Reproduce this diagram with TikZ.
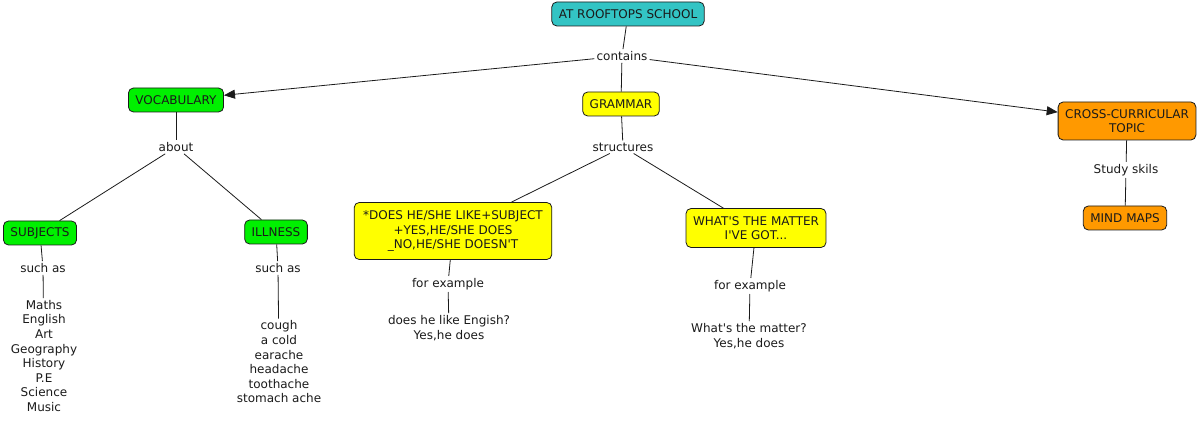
\documentclass[tikz,border=0pt]{standalone}
\usepackage{fontspec}
\usepackage{xcolor}
\usepackage{tikz}
\usetikzlibrary{arrows.meta}
\setmainfont{DejaVu Sans}
\definecolor{teal1}{HTML}{33C4C4}
\definecolor{green1}{HTML}{00F000}
\definecolor{yellow1}{HTML}{FFFF00}
\definecolor{orange1}{HTML}{FF9900}
\definecolor{ink}{HTML}{1A1A1A}

\begin{document}
\begin{tikzpicture}[
			x=1pt, y=-1pt,
			% Define the styles for the concepts and the linking phrases
			every node/.style={font=\fontsize{12}{14.6}\selectfont, text=ink, align=center},
			concept/.style={rectangle, rounded corners=5pt, draw=ink, line width=0.8pt, inner xsep=7pt, inner ysep=4pt, minimum height=24pt},
			link/.style={inner sep=2pt},
			conn/.style={line width=0.8pt, draw=ink},
			arr/.style={conn, -{Triangle[length=11pt, width=9pt]}}
			]
			
			\useasboundingbox (0,0) rectangle (1202,430);
			
			\node (school) at (628, 14) [concept, fill=teal1] {AT ROOFTOPS SCHOOL};
			\node (contains) at (622, 56) [link] {contains};
			
			\node (vocab) at (176, 100) [concept, fill=green1] {VOCABULARY};
			\node (grammar) at (621, 104) [concept, fill=yellow1] {GRAMMAR};
			\node (cross) at (1127, 121) [concept, fill=orange1, minimum height=38pt, inner ysep=2pt] {CROSS-CURRICULAR\\TOPIC};
			
			\node (about) at (176, 147) [link] {about};
			\node (subjects) at (40, 233) [concept, fill=green1] {SUBJECTS};
			\node (illness) at (276, 232) [concept, fill=green1] {ILLNESS};
			\node (such1) at (43, 268) [link] {such as};
			\node (such2) at (278, 268) [link] {such as};
			\node (sublist) at (44, 356) [link] {Maths\\English\\Art\\Geography\\History\\P.E\\Science\\Music};
			\node (illlist) at (279, 362) [link] {cough\\a cold\\earache\\headache\\toothache\\stomach ache};
			
			\node (struct) at (623, 147) [link] {structures};
			\node (does) at (453, 231) [concept, fill=yellow1, minimum height=57pt, inner xsep=9pt] {*DOES HE/SHE LIKE+SUBJECT\\+YES,HE/SHE DOES\\\_NO,HE/SHE DOESN\textquotesingle T};
			\node (matter) at (756, 228) [concept, fill=yellow1, minimum height=39pt] {WHAT\textquotesingle S THE MATTER\\I\textquotesingle VE GOT...};
			\node (ex1) at (448, 284) [link] {for example};
			\node (ex2) at (750, 286) [link] {for example};
			\node (ans1) at (449, 328) [link] {does he like Engish?\\Yes,he does};
			\node (ans2) at (749, 336) [link] {What\textquotesingle s the matter?\\Yes,he does};
			
			\node (study) at (1126, 170) [link] {Study skils};
			\node (mind) at (1125, 218) [concept, fill=orange1] {MIND MAPS};
			
			\draw[conn] (school) -- (contains);
			\draw[arr] (contains) -- (vocab);
			\draw[conn] (contains) -- (grammar);
			\draw[arr] (contains) -- (cross);
			
			\draw[conn] (vocab) -- (about);
			\draw[conn] (about) -- (subjects);
			\draw[conn] (about) -- (illness);
			\draw[conn] (subjects) -- (such1);
			\draw[conn] (such1) -- (sublist);
			\draw[conn] (illness) -- (such2);
			\draw[conn] (such2) -- (illlist);
			
			\draw[conn] (grammar) -- (struct);
			\draw[conn] (struct) -- (does);
			\draw[conn] (struct) -- (matter);
			\draw[conn] (does) -- (ex1);
			\draw[conn] (ex1) -- (ans1);
			\draw[conn] (matter) -- (ex2);
			\draw[conn] (ex2) -- (ans2);
			
			\draw[conn] (cross) -- (study);
			\draw[conn] (study) -- (mind);
			
		\end{tikzpicture}
\end{document}
